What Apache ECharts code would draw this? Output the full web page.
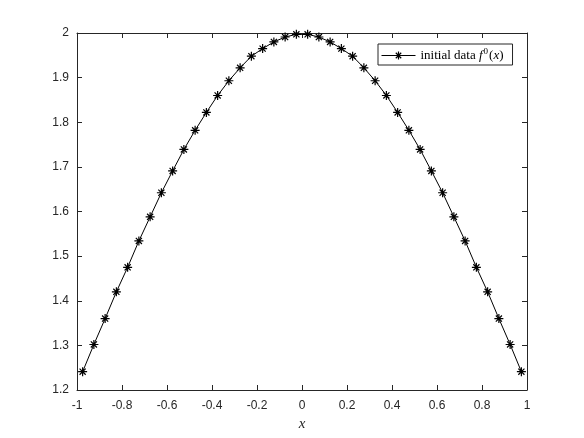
<!DOCTYPE html>
<html>
<head>
<meta charset="utf-8">
<script src="https://cdn.jsdelivr.net/npm/echarts@6/dist/echarts.min.js"></script>
<style>
  html, body { margin: 0; padding: 0; background: #fff; }
  #chart { width: 584px; height: 438px; }
</style>
</head>
<body>
<div id="chart"></div>
<script>
// sample points (cell centres) and the values
const xs = [
  -0.975, -0.925, -0.875, -0.825, -0.775, -0.725, -0.675, -0.625, -0.575, -0.525,
  -0.475, -0.425, -0.375, -0.325, -0.275, -0.225, -0.175, -0.125, -0.075, -0.025,
  0.025, 0.075, 0.125, 0.175, 0.225, 0.275, 0.325, 0.375, 0.425, 0.475,
  0.525, 0.575, 0.625, 0.675, 0.725, 0.775, 0.825, 0.875, 0.925, 0.975
]
const f0 = [
  1.241, 1.302, 1.360, 1.420, 1.475, 1.534, 1.588, 1.642, 1.691, 1.739,
  1.782, 1.822, 1.860, 1.893, 1.922, 1.948, 1.965, 1.980, 1.991, 1.997,
  1.997, 1.991, 1.980, 1.965, 1.948, 1.922, 1.893, 1.860, 1.822, 1.782,
  1.739, 1.691, 1.642, 1.588, 1.534, 1.475, 1.420, 1.360, 1.302, 1.241
]
const xTicks = { min: -1, max: 1, step: 0.2 }
const yTicks = { min: 1.2, max: 2, step: 0.1 }

const axisColor = '#262626'
const asterisk = 'path://M5,0L5,10M0,5L10,5M1.6,1.6L8.4,8.4M1.6,8.4L8.4,1.6'

const chart = echarts.init(document.getElementById('chart'))

// common bits for the box axes (MATLAB style: ticks inside on every side)
function boxAxis(extra) {
  return Object.assign({
    type: 'value',
    axisLine: { show: true, onZero: false, lineStyle: { color: axisColor, width: 1 } },
    axisTick: { show: true, inside: true, length: 5, lineStyle: { color: axisColor } },
    splitLine: { show: false }
  }, extra)
}

const fmt = v => String(Math.round(v * 10) / 10)

chart.setOption({
  animation: false,
  backgroundColor: '#fff',
  grid: { left: 77, right: 57, top: 33, bottom: 48, containLabel: false },
  xAxis: [
    boxAxis({
      min: xTicks.min, max: xTicks.max, interval: xTicks.step,
      position: 'bottom',
      axisLabel: { color: axisColor, fontFamily: 'Liberation Sans', fontSize: 12, margin: 10, formatter: fmt },
      name: 'x', nameLocation: 'middle', nameGap: 27,
      nameTextStyle: { color: axisColor, fontFamily: 'Liberation Serif', fontStyle: 'italic', fontSize: 15 }
    }),
    boxAxis({
      min: xTicks.min, max: xTicks.max, interval: xTicks.step,
      position: 'top',
      axisLabel: { show: false }
    })
  ],
  yAxis: [
    boxAxis({
      min: yTicks.min, max: yTicks.max, interval: yTicks.step,
      position: 'left',
      axisLabel: { color: axisColor, fontFamily: 'Liberation Sans', fontSize: 12, margin: 8, formatter: fmt }
    }),
    boxAxis({
      min: yTicks.min, max: yTicks.max, interval: yTicks.step,
      position: 'right',
      axisLabel: { show: false }
    })
  ],
  legend: {
    left: 378, top: 44,
    orient: 'vertical',
    backgroundColor: '#fff',
    borderColor: axisColor,
    borderWidth: 1,
    borderRadius: 0,
    padding: [3, 9, 3, 3],
    itemWidth: 34,
    itemHeight: 10,
    itemGap: 4,
    lineStyle: { width: 1, color: '#000' },
    itemStyle: { borderWidth: 1.2, borderColor: '#000', color: '#000' },
    formatter: () => '{n|initial data }{f|f}{s|0}{n|(}{f|x}{n|)}',
    textStyle: {
      color: '#000',
      rich: {
        n: { fontFamily: 'Liberation Serif', fontSize: 13, color: '#000' },
        f: { fontFamily: 'Liberation Serif', fontStyle: 'italic', fontSize: 13, color: '#000' },
        s: { fontFamily: 'Liberation Serif', fontSize: 9, color: '#000', verticalAlign: 'bottom', padding: [0, 1, 8, 1] }
      }
    },
    data: ['initial data']
  },
  series: [{
    name: 'initial data',
    type: 'line',
    data: xs.map((x, i) => [x, f0[i]]),
    symbol: asterisk,
    symbolSize: 9,
    showAllSymbol: true,
    lineStyle: { color: '#000', width: 1 },
    itemStyle: { color: '#000', borderColor: '#000', borderWidth: 1.2 }
  }]
})
</script>
</body>
</html>
